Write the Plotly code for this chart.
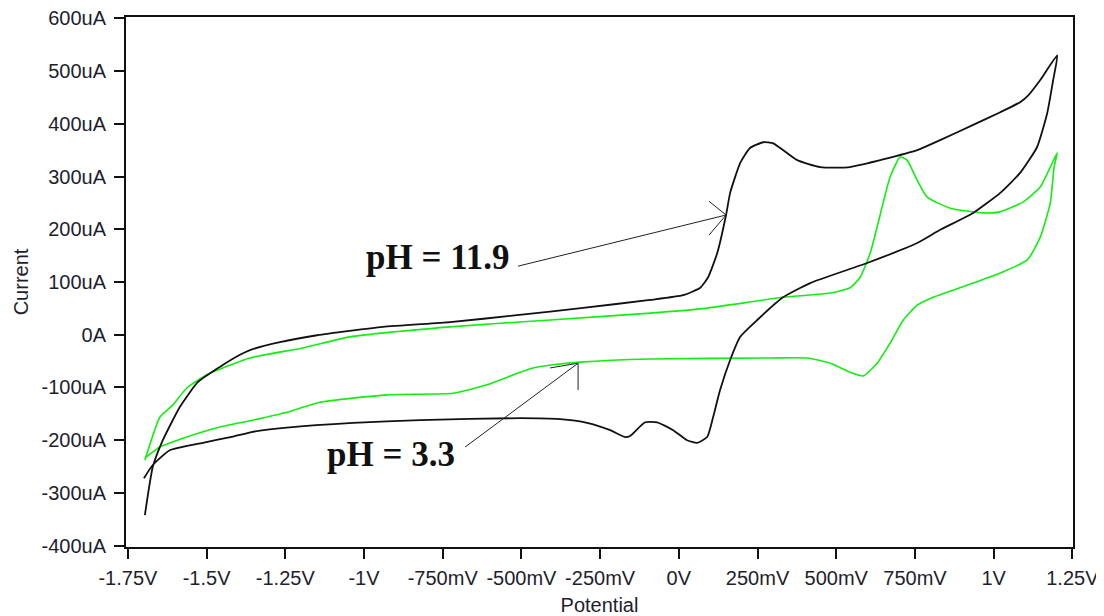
import plotly.graph_objects as go

# pH = 11.9 (black) cyclic voltammogram: potential (V), current (uA)
potential_pH119 = [
    -1.699, -1.671, -1.617, -1.512, -1.416, -1.353, -1.245, -1.035, -0.822, -0.504,
    -0.377, -0.2915, -0.218, -0.171, -0.155, -0.107, -0.069, -0.018, 0.026, 0.058,
    0.090, 0.109, 0.131, 0.163, 0.195, 0.249, 0.331, 0.417, 0.598, 0.757,
    0.830, 0.935, 1.021, 1.084, 1.138, 1.170, 1.189, 1.202,
    1.148, 1.110, 1.084, 1.021, 0.935, 0.830, 0.757, 0.544, 0.449, 0.376,
    0.300, 0.268, 0.226, 0.195, 0.163, 0.150, 0.122, 0.093, 0.068, 0.014,
    -0.091, -0.304, -0.514, -0.727, -0.940, -1.149, -1.267, -1.362, -1.394, -1.458,
    -1.528, -1.585, -1.639, -1.671, -1.696,
]
current_pH119 = [
    -272, -247, -219, -205, -193, -184, -176, -167, -162, -158,
    -160, -167, -181, -194, -192, -166, -166, -181, -200, -205,
    -194, -156, -105, -48, -4, 28, 71, 98, 136, 174,
    199, 231, 269, 307, 356, 420, 483, 530,
    483, 454, 441, 422, 398, 369, 350, 318, 318, 331,
    363, 365, 354, 326, 269, 227, 155, 109, 89, 75,
    66, 51, 37, 24, 15, -1, -14, -29, -38, -61,
    -90, -137, -200, -251, -342,
]

# pH = 3.3 (green) cyclic voltammogram
potential_pH33 = [
    -1.696, -1.648, -1.607, -1.563, -1.499, -1.362, -1.194, -1.045, -0.727, -0.409,
    -0.091, 0.068, 0.226, 0.331, 0.481, 0.544, 0.576, 0.608, 0.649, 0.671,
    0.703, 0.725, 0.757, 0.789, 0.862, 0.967, 1.021, 1.094, 1.148, 1.180, 1.202,
    1.192, 1.180, 1.148, 1.107, 1.021, 0.935, 0.808, 0.757, 0.713, 0.671,
    0.630, 0.586, 0.544, 0.481, 0.408, 0.290, -0.091, -0.314, -0.400, -0.463,
    -0.504, -0.568, -0.609, -0.717, -0.927, -1.140, -1.245, -1.353, -1.458, -1.563,
    -1.648, -1.696,
]
current_pH33 = [
    -238, -156, -133, -101, -76, -44, -25, -4, 15, 28,
    41, 49, 62, 71, 79, 89, 109, 155, 250, 299,
    337, 331, 293, 261, 240, 231, 233, 252, 280, 318, 345,
    318, 250, 185, 142, 117, 98, 71, 56, 28, -16,
    -54, -78, -71, -54, -44, -44, -46, -52, -57, -63,
    -71, -86, -95, -111, -114, -128, -147, -162, -175, -194,
    -213, -234,
]

x_tick_values = [-1.75, -1.5, -1.25, -1.0, -0.75, -0.5, -0.25, 0.0, 0.25, 0.5, 0.75, 1.0, 1.25]
x_tick_labels = ["-1.75V", "-1.5V", "-1.25V", "-1V", "-750mV", "-500mV", "-250mV",
                 "0V", "250mV", "500mV", "750mV", "1V", "1.25V"]
y_tick_values = [-400, -300, -200, -100, 0, 100, 200, 300, 400, 500, 600]
y_tick_labels = ["-400uA", "-300uA", "-200uA", "-100uA", "0A", "100uA",
                 "200uA", "300uA", "400uA", "500uA", "600uA"]

label_pH119 = "pH = 11.9"
label_pH33 = "pH = 3.3"

fig = go.Figure()
fig.add_trace(go.Scatter(x=potential_pH33, y=current_pH33, mode="lines",
                         line=dict(color="#11ee11", width=1.6, shape="spline", smoothing=0.5),
                         showlegend=False))
fig.add_trace(go.Scatter(x=potential_pH119, y=current_pH119, mode="lines",
                         line=dict(color="#111111", width=1.8, shape="spline", smoothing=0.5),
                         showlegend=False))

def arrow(x0, y0, x1, y1, barbs):
    shapes = [dict(type="line", xref="x", yref="y", x0=x0, y0=y0, x1=x1, y1=y1,
                   line=dict(color="#222222", width=1))]
    for bx, by in barbs:
        shapes.append(dict(type="line", xref="x", yref="y", x0=bx, y0=by, x1=x1, y1=y1,
                           line=dict(color="#222222", width=1)))
    return shapes

shapes = []
shapes += arrow(-0.511, 130, 0.150, 227, [(0.096, 253), (0.096, 189)])
shapes += arrow(-0.679, -213, -0.320, -54, [(-0.320, -105), (-0.409, -63)])

fig.add_annotation(x=-0.765, y=147, text="<b>" + label_pH119 + "</b>", showarrow=False,
                   font=dict(family="Liberation Serif", size=35, color="#111111"))
fig.add_annotation(x=-0.914, y=-228, text="<b>" + label_pH33 + "</b>", showarrow=False,
                   font=dict(family="Liberation Serif", size=35, color="#111111"))

tick_font = dict(family="Liberation Sans", size=20, color="#1e1e2e")
fig.update_layout(
    width=1096, height=608,
    margin=dict(l=118, r=31, t=9, b=69),
    paper_bgcolor="white", plot_bgcolor="white",
    shapes=shapes,
    xaxis=dict(range=[-1.756, 1.252], tickvals=x_tick_values, ticktext=x_tick_labels,
               showgrid=False, zeroline=False, showline=True, mirror=True, automargin=False,
               linecolor="#111111", linewidth=2, ticks="outside", ticklen=10,
               tickwidth=2, tickcolor="#111111", tickfont=tick_font, ticklabelstandoff=2,
               ticklabeloverflow="allow",
               title=dict(text="Potential", font=tick_font, standoff=10)),
    yaxis=dict(range=[-402.5, 602.5], tickvals=y_tick_values, ticktext=y_tick_labels,
               showgrid=False, zeroline=False, showline=True, mirror=True, automargin=False,
               linecolor="#111111", linewidth=2, ticks="outside", ticklen=10,
               tickwidth=2, tickcolor="#111111", tickfont=tick_font, ticklabelstandoff=4,
               ticklabeloverflow="allow",
               title=dict(text="Current", font=tick_font, standoff=8)),
)

fig.write_html("out.html")
